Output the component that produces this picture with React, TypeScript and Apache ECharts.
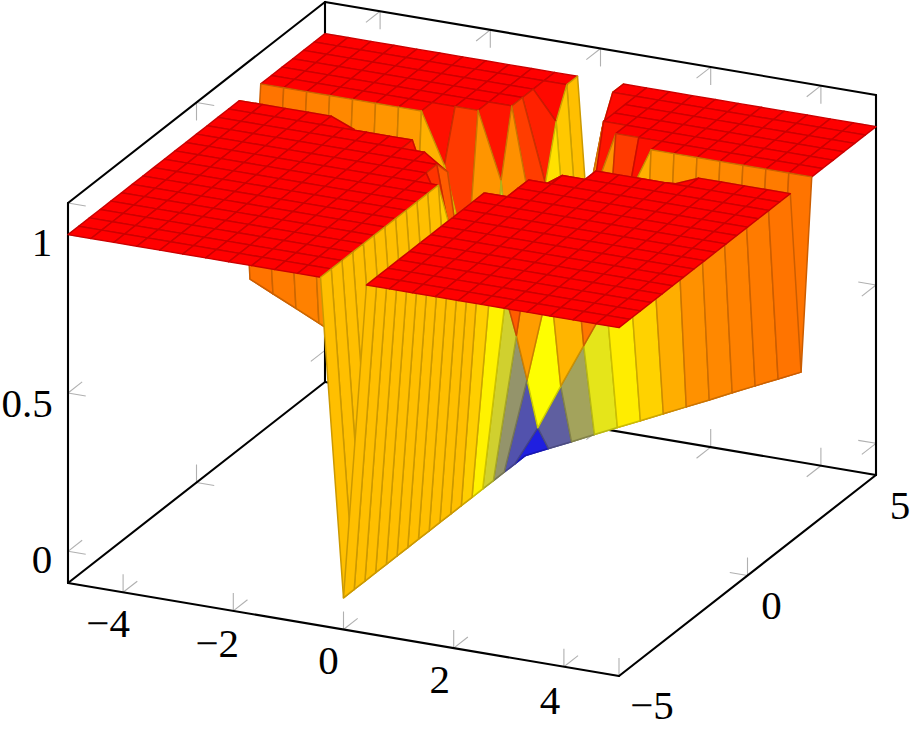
import React, { useEffect, useRef } from "react";
import * as echarts from "echarts";

const gridX = [-5,-4.5833,-4.1667,-3.75,-3.3333,-2.9167,-2.5,-2.0833,-1.6667,-1.25,-0.8333,-0.4167,0,0.4167,0.8333,1.25,1.6667,2.0833,2.5,2.9167,3.3333,3.75,4.1667,4.5833,5];
const gridY = gridX.slice();

// one row per y of gridY, one value per x of gridX
const surfaceZ = [
[1,1,1,1,1,1,1,1,1,1,1,1,0,1,1,1,1,1,1,1,1,1,1,1,1],
[1,1,1,1,1,1,1,1,1,1,1,1,0,1,1,1,1,1,1,1,1,1,1,1,1],
[1,1,1,1,1,1,1,1,1,1,1,1,0,1,1,1,1,1,1,1,1,1,1,1,1],
[1,1,1,1,1,1,1,1,1,1,1,1,0,1,1,1,1,1,1,1,1,1,1,1,1],
[1,1,1,1,1,1,1,1,1,1,1,1,0,1,1,1,1,1,1,1,1,1,1,1,1],
[1,1,1,1,1,1,1,1,1,1,1,1,0,1,1,1,1,1,1,1,1,1,1,1,1],
[1,1,1,1,1,1,1,1,1,1,1,1,0,1,1,1,1,1,1,1,1,1,1,1,1],
[1,1,1,1,1,1,1,1,1,1,1,1,0,1,1,1,1,1,1,1,1,1,1,1,1],
[1,1,1,1,1,1,1,1,1,1,1,1,0,1,1,1,1,1,1,1,1,1,1,1,1],
[1,1,1,1,1,1,1,1,1,1,1,1,0,1,1,1,1,1,1,1,1,1,1,1,1],
[1,1,1,1,1,1,1,1,1,1,1,1,0,1,1,1,1,1,1,1,1,1,1,1,1],
[1,1,1,1,1,1,1,1,1,1,1,1,0,1,1,1,1,1,1,1,1,1,1,1,1],
[1,1,1,1,1,1,1,1,1,1,1,0.85,0,0.85,1,1,1,1,1,1,1,1,1,1,1],
[1,1,1,1,1,1,1,1,1,1,1,0.62,0,0.62,1,1,1,1,1,1,1,1,1,1,1],
[1,1,1,1,1,1,1,1,1,1,0.95,0.47,0,0.47,0.95,1,1,1,1,1,1,1,1,1,1],
[1,1,1,1,1,1,1,1,1,0.8,0.63,0.304,0,0.304,0.63,0.8,1,1,1,1,1,1,1,1,1],
[1,1,1,1,1,0.97,0.77,0.66,0.55,0.41,0.27,0.126,0,0.126,0.27,0.41,0.55,0.66,0.77,0.97,1,1,1,1,1],
[0.41,0.376,0.342,0.308,0.273,0.239,0.205,0.171,0.137,0.103,0.068,0.034,0,0.034,0.068,0.103,0.137,0.171,0.205,0.239,0.273,0.308,0.342,0.376,0.41],
[1,1,1,1,1,1,1,1,0.84,0.55,0.1,0.2,0,0.2,0.1,0.55,0.84,1,1,1,1,1,1,1,1],
[1,1,1,1,1,1,1,1,1,1,0.79,0.08,0,0.08,0.79,1,1,1,1,1,1,1,1,1,1],
[1,1,1,1,1,1,1,1,1,1,1,0.62,0,0.62,1,1,1,1,1,1,1,1,1,1,1],
[1,1,1,1,1,1,1,1,1,1,1,0.74,0,0.74,1,1,1,1,1,1,1,1,1,1,1],
[1,1,1,1,1,1,1,1,1,1,1,0.91,0,0.91,1,1,1,1,1,1,1,1,1,1,1],
[1,1,1,1,1,1,1,1,1,1,1,1,0,1,1,1,1,1,1,1,1,1,1,1,1],
[1,1,1,1,1,1,1,1,1,1,1,1,0,1,1,1,1,1,1,1,1,1,1,1,1],
];

const xTicks = [-4, -2, 0, 2, 4];
const yTicks = [-5, 0, 5];
const zTicks = [0, 0.5, 1];
const X_MIN = -5, X_MAX = 5, Y_MIN = -5, Y_MAX = 5, Z_MIN = -0.1, Z_MAX = 1.1;

// [label, x, y, z, screen offset dx, dy]
const axisLabels: [string, number, number, number, number, number][] = [
  ["\u22124", -4, -5, Z_MIN, -15, 31],
  ["\u22122", -2, -5, Z_MIN, -16, 32],
  ["0", 0, -5, Z_MIN, -15, 30],
  ["2", 2, -5, Z_MIN, -14, 31],
  ["4", 4, -5, Z_MIN, -14, 33],
  ["\u22125", 5, -5, Z_MIN, 33, 29],
  ["0", 5, 0, Z_MIN, 24, 29],
  ["5", 5, 5, Z_MIN, 24, 30],
  ["0", -5, -5, 0, -26, 8],
  ["0.5", -5, -5, 0.5, -41, 10],
  ["1", -5, -5, 1, -26, 7],
];

// Each edge: [x0, y0, z0, x1, y1, z1]
const boxEdges = [
  [X_MIN, Y_MIN, Z_MIN, X_MAX, Y_MIN, Z_MIN],
  [X_MAX, Y_MIN, Z_MIN, X_MAX, Y_MAX, Z_MIN],
  [X_MIN, Y_MIN, Z_MIN, X_MIN, Y_MAX, Z_MIN],
  [X_MIN, Y_MAX, Z_MIN, X_MAX, Y_MAX, Z_MIN],
  [X_MIN, Y_MIN, Z_MIN, X_MIN, Y_MIN, Z_MAX],
  [X_MIN, Y_MAX, Z_MIN, X_MIN, Y_MAX, Z_MAX],
  [X_MAX, Y_MAX, Z_MIN, X_MAX, Y_MAX, Z_MAX],
  [X_MIN, Y_MIN, Z_MAX, X_MIN, Y_MAX, Z_MAX],
  [X_MIN, Y_MAX, Z_MAX, X_MAX, Y_MAX, Z_MAX],
];

function project(x: number, y: number, z: number): [number, number] {
  return [
    68 + 55.1 * (x + 5) + 25.7 * (y + 5),
    583 + 9.3 * (x + 5) - 20.1 * (y + 5) - 316.7 * (z + 0.1),
  ];
}

const UX = [0.985, 0.166];
const UY = [0.787, -0.617];
const UZ = [0, -1];
const TICK = 18;

type Tick = [number, number, number, number, number];
const tickMarks: Tick[] = [];
function addTick(p: [number, number, number], a: number[], b: number[]) {
  tickMarks.push([p[0], p[1], p[2], a[0], a[1]]);
  tickMarks.push([p[0], p[1], p[2], b[0], b[1]]);
}
const neg = (v: number[]) => [-v[0], -v[1]];
xTicks.forEach((x) => {
  addTick([x, Y_MIN, Z_MIN], UY, UZ);
  addTick([x, Y_MAX, Z_MIN], neg(UY), UZ);
  addTick([x, Y_MAX, Z_MAX], neg(UY), neg(UZ));
});
yTicks.forEach((y) => {
  addTick([X_MIN, y, Z_MIN], UX, UZ);
  addTick([X_MAX, y, Z_MIN], neg(UX), UZ);
  addTick([X_MIN, y, Z_MAX], UX, neg(UZ));
});
zTicks.forEach((z) => {
  addTick([X_MIN, Y_MIN, z], UX, UY);
  addTick([X_MIN, Y_MAX, z], UX, neg(UY));
  addTick([X_MAX, Y_MAX, z], neg(UX), neg(UY));
});

function hot(t: number): [number, number, number] {
  const v = Math.max(0, Math.min(1, t)) * 3;
  if (v < 1) return [v, v, 1 - v];
  if (v < 2) return [1, 1 - 0.5 * (v - 1), 0];
  return [1, 0.5 - 0.5 * (v - 2), 0];
}
const css = (c: number[], k = 1) =>
  `rgb(${Math.round(c[0] * 255 * k)},${Math.round(c[1] * 255 * k)},${Math.round(c[2] * 255 * k)})`;

const cells: [number, number][] = [];
for (let j = gridY.length - 2; j >= 0; j--) {
  for (let i = 0; i < gridX.length - 1; i++) cells.push([i, j]);
}

export default function App() {
  const ref = useRef<HTMLDivElement>(null);
  useEffect(() => {
    document.body.style.margin = "0";
    const chart = echarts.init(ref.current!, undefined, { renderer: "svg" });
    const font = '"Liberation Serif", serif';
    chart.setOption({
      animation: false,
      backgroundColor: "#ffffff",
      tooltip: { show: false },
      grid: { left: 0, right: 0, top: 0, bottom: 0 },
      xAxis: { type: "value", min: 0, max: 913, show: false },
      yAxis: { type: "value", min: 0, max: 729, inverse: true, show: false },
      series: [
        {
          type: "custom",
          name: "ticks",
          silent: true,
          data: tickMarks,
          renderItem: (_: any, api: any) => {
            const p = [api.value(0), api.value(1), api.value(2)];
            const s = project(p[0], p[1], p[2]);
            const a = api.coord(s);
            const b = api.coord([s[0] + api.value(3) * TICK, s[1] + api.value(4) * TICK]);
            return {
              type: "line",
              shape: { x1: a[0], y1: a[1], x2: b[0], y2: b[1] },
              style: { stroke: "#b0b0b0", lineWidth: 1.1 },
            };
          },
          encode: { x: 0, y: 1 },
          z: 1,
        },
        {
          type: "custom",
          name: "box",
          silent: true,
          data: boxEdges,
          renderItem: (_: any, api: any) => {
            const a = api.coord(project(api.value(0), api.value(1), api.value(2)));
            const b = api.coord(project(api.value(3), api.value(4), api.value(5)));
            return {
              type: "line",
              shape: { x1: a[0], y1: a[1], x2: b[0], y2: b[1] },
              style: { stroke: "#000000", lineWidth: 2.1, lineCap: "round" },
            };
          },
          encode: { x: 0, y: 1 },
          z: 2,
        },
        {
          type: "custom",
          name: "surface",
          silent: true,
          data: cells,
          renderItem: (_: any, api: any) => {
            const i = api.value(0);
            const j = api.value(1);
            const corners: [number, number][] = [[i, j], [i + 1, j], [i + 1, j + 1], [i, j + 1]];
            let sum = 0;
            const points = corners.map(([a, b]) => {
              const z = surfaceZ[b][a];
              sum += z;
              return api.coord(project(gridX[a], gridY[b], z));
            });
            const c = hot(sum / 4);
            return {
              type: "polygon",
              shape: { points },
              style: { fill: css(c), stroke: css(c, 0.8), lineWidth: 1.5, lineJoin: "round" },
            };
          },
          encode: { x: 0, y: 1 },
          z: 3,
        },
        {
          type: "custom",
          name: "labels",
          silent: true,
          data: axisLabels.map((l, k) => [k, l[1], l[2], l[3], l[4], l[5]]),
          renderItem: (_: any, api: any) => {
            const s = project(api.value(1), api.value(2), api.value(3));
            const a = api.coord([s[0] + api.value(4), s[1] + api.value(5)]);
            return {
              type: "text",
              x: a[0],
              y: a[1],
              style: {
                text: axisLabels[api.value(0)][0],
                fill: "#000000",
                font: `41px ${font}`,
                textAlign: "center",
                textVerticalAlign: "middle",
              },
            };
          },
          encode: { x: 1, y: 2 },
          z: 4,
        },
      ],
    });
    return () => chart.dispose();
  }, []);
  return <div ref={ref} style={{ width: 913, height: 729 }} />;
}
